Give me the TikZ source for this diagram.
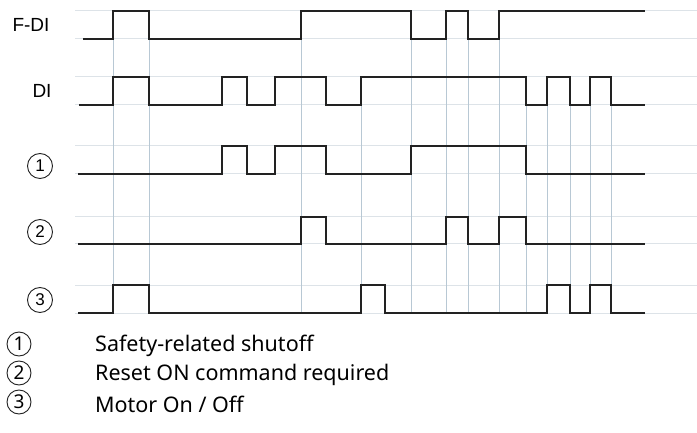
\documentclass[tikz,border=0pt]{standalone}
\usepackage{fontspec}
\setmainfont{Noto Sans}
\newfontfamily\labelfont{Liberation Sans}
\usetikzlibrary{positioning}

\definecolor{gridgray}{HTML}{DDE3E8}
\definecolor{gridblue}{HTML}{B8C8D4}
\definecolor{sigdark}{HTML}{222222}

\tikzset{
  hgrid/.style={gridgray,line width=1pt},
  vgrid/.style={gridblue,line width=0.9pt},
  signal/.style={sigdark,line width=1.8pt,line join=miter},
  signame/.style={font=\labelfont\fontsize{19}{19}\selectfont,inner sep=0pt},
  numcirc/.style={circle,draw=sigdark,line width=0.9pt,minimum size=25pt,inner sep=0pt,
    font=\labelfont\fontsize{17}{17}\selectfont},
  legcirc/.style={circle,draw=sigdark,line width=0.9pt,minimum size=24pt,inner sep=0pt,
    font=\fontsize{19}{19}\selectfont},
  legtext/.style={anchor=west,inner sep=0pt,font=\fontsize{21.5}{24}\selectfont}
}

\begin{document}
\begin{tikzpicture}[x=1pt,y=-1pt]
\useasboundingbox (0,0) rectangle (697,433);

% horizontal grid
\foreach \y in {11,39,77,105,146,174,217,244,285,313}
  \draw[hgrid] (75,\y)--(697,\y);

% vertical markers
\foreach \x in {113,149,301,411,446,468,499}
  \draw[vgrid] (\x,39)--(\x,313);
\foreach \x in {361,526,547,570,590,611}
  \draw[vgrid] (\x,105)--(\x,313);

% signals
\draw[signal] (83,39) -| (113,11) -| (149,39) -| (301,11) -| (411,39) -| (446,11)
  -| (468,39) -| (499,11) -- (645,11);
\draw[signal] (79,105) -| (113,77) -| (149,105) -| (222,77) -| (247,105) -| (275,77)
  -| (326,105) -| (361,77) -| (526,105) -| (547,77) -| (570,105) -| (590,77)
  -| (611,105) -- (645,105);
\draw[signal] (78,174) -| (222,146) -| (247,174) -| (275,146) -| (326,174)
  -| (411,146) -| (526,174) -- (645,174);
\draw[signal] (78,244) -| (301,217) -| (326,244) -| (446,217) -| (468,244)
  -| (499,217) -| (526,244) -- (645,244);
\draw[signal] (78,313) -| (113,285) -| (149,313) -| (361,285) -| (385,313)
  -| (547,285) -| (570,313) -| (590,285) -| (611,313) -- (645,313);

% signal names
\node[signame] (fdi) at (31,25) {F-DI};
\node[signame] (di) at (42,91) {DI};
\node[numcirc] (row1) at (40,166) {1};
\node[numcirc] (row2) at (40,232) {2};
\node[numcirc] (row3) at (40,300) {3};

% legend
\node[legcirc] (leg1) at (19,344) {1};
\node[legcirc] (leg2) at (19,373) {2};
\node[legcirc] (leg3) at (19,402) {3};
\node[legtext] (txt1) at (95,346) {Safety-related shutoff};
\node[legtext] (txt2) at (95,375) {Reset ON command required};
\node[legtext] (txt3) at (95,404) {Motor On / Off};
\end{tikzpicture}
\end{document}
